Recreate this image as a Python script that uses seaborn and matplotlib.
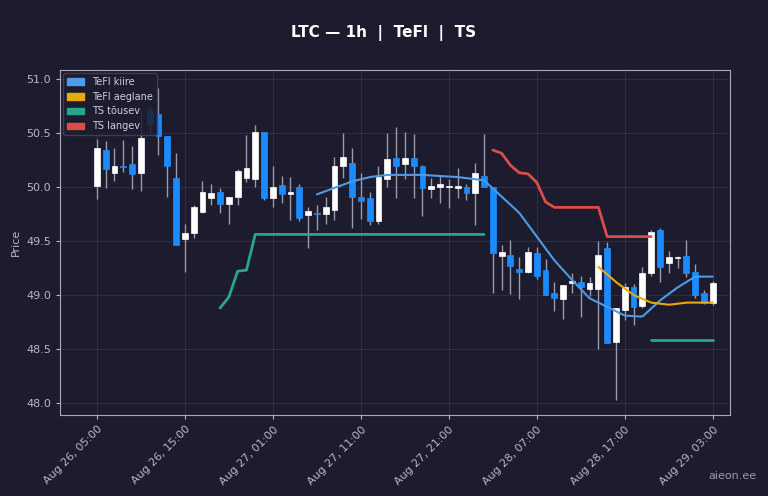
import matplotlib
matplotlib.use("Agg")
import matplotlib.pyplot as plt
import matplotlib.patches as mpatches
import numpy as np
import pandas as pd
import seaborn as sns

# candles (hourly, Aug 26 05:00 -> Aug 29 03:00)
opens = [50.01, 50.34, 50.13, 50.19, 50.21, 50.13, 50.71, 50.67, 50.47, 50.08,
         49.52, 49.57, 49.77, 49.90, 49.95, 49.84, 49.91, 50.08, 50.07, 50.51,
         49.90, 50.02, 49.93, 50.00, 49.74, 49.76, 49.75, 49.79, 50.19, 50.22,
         49.91, 49.90, 49.68, 50.07, 50.27, 50.21, 50.27, 50.19, 49.98, 50.00,
         50.00, 49.99, 50.00, 49.94, 50.10, 50.00, 49.36, 49.37, 49.24, 49.21,
         49.39, 49.23, 49.02, 48.96, 49.11, 49.12, 49.06, 49.06, 49.43, 48.57,
         48.86, 49.07, 48.90, 49.20, 49.60, 49.30, 49.34, 49.36, 49.21, 49.02,
         48.93]
closes = [50.36, 50.16, 50.19, 50.18, 50.12, 50.45, 50.57, 50.47, 50.19, 49.46,
          49.57, 49.81, 49.95, 49.94, 49.84, 49.91, 50.15, 50.17, 50.51, 49.90,
          50.00, 49.93, 49.95, 49.71, 49.78, 49.75, 49.81, 50.19, 50.28, 49.91,
          49.87, 49.68, 50.09, 50.26, 50.19, 50.27, 50.19, 49.99, 50.01, 50.03,
          50.00, 50.01, 49.94, 50.13, 50.00, 49.39, 49.40, 49.27, 49.21, 49.40,
          49.18, 49.00, 48.97, 49.09, 49.13, 49.07, 49.11, 49.37, 48.56, 48.88,
          49.07, 48.89, 49.20, 49.58, 49.26, 49.35, 49.35, 49.20, 49.00, 48.93,
          49.11]
highs = [50.44, 50.42, 50.36, 50.43, 50.38, 50.71, 50.75, 50.91, 50.47, 50.31,
         49.66, 49.83, 50.05, 50.03, 49.99, 49.91, 50.16, 50.48, 50.57, 50.51,
         50.19, 50.10, 50.09, 50.03, 49.81, 49.83, 49.91, 50.28, 50.50, 50.36,
         50.13, 49.95, 50.19, 50.50, 50.55, 50.51, 50.49, 50.20, 50.08, 50.11,
         50.07, 50.17, 50.03, 50.22, 50.49, 50.00, 49.46, 49.51, 49.35, 49.44,
         49.44, 49.33, 49.12, 49.09, 49.20, 49.18, 49.17, 49.50, 49.49, 48.88,
         49.11, 49.10, 49.26, 49.60, 49.62, 49.41, 49.36, 49.51, 49.29, 49.05,
         49.13]
lows = [49.89, 49.99, 50.05, 50.14, 49.98, 49.96, 50.50, 50.29, 49.91, 49.46,
        49.21, 49.53, 49.76, 49.83, 49.76, 49.66, 49.83, 50.04, 50.00, 49.88,
        49.81, 49.85, 49.69, 49.68, 49.43, 49.60, 49.66, 49.69, 50.08, 49.62,
        49.70, 49.65, 49.66, 50.00, 49.90, 50.07, 49.90, 49.73, 49.90, 49.85,
        49.80, 49.90, 49.88, 49.65, 50.00, 49.02, 49.05, 49.01, 48.96, 49.20,
        49.15, 49.00, 48.85, 48.78, 49.02, 48.80, 48.99, 48.50, 48.56, 48.03,
        48.77, 48.72, 48.88, 49.18, 49.12, 49.20, 49.25, 49.17, 48.97, 48.92,
        48.91]

# indicators: (index, value)
fast_idx = [25, 27, 29, 31, 33, 35, 37, 39, 41, 43, 44, 46, 48, 50, 52, 54, 56, 58, 60, 62, 64, 66, 68, 70]
fast_val = [49.93, 49.99, 50.05, 50.09, 50.11, 50.11, 50.11, 50.10, 50.09, 50.07, 50.06, 49.91, 49.76,
            49.54, 49.32, 49.14, 48.97, 48.89, 48.81, 48.80, 48.95, 49.07, 49.17, 49.17]
slow_idx = [57, 59, 61, 63, 65, 67, 70]
slow_val = [49.26, 49.12, 49.00, 48.93, 48.91, 48.93, 48.93]
down_idx = [45, 46, 47, 48, 49, 50, 51, 52, 57, 58, 63]
down_val = [50.34, 50.31, 50.20, 50.13, 50.12, 50.04, 49.86, 49.81, 49.81, 49.54, 49.54]
up1_idx = [14, 15, 16, 17, 18, 44]
up1_val = [48.88, 48.98, 49.22, 49.23, 49.56, 49.56]
up2_idx = [63, 70]
up2_val = [48.58, 48.58]

start = pd.Timestamp("2025-08-26 05:00")
tick_idx = list(range(0, 71, 10))
tick_labels = [(start + pd.Timedelta(hours=i)).strftime("%b %d, %H:%M") for i in tick_idx]

bg = "#1c1c2e"
sns.set_style("dark")
plt.rcParams["font.family"] = ["DejaVu Sans"]

fig = plt.figure(figsize=(7.68, 4.96), dpi=100, facecolor=bg)
ax = fig.add_axes([0.078, 0.163, 0.873, 0.696])
ax.set_facecolor(bg)

up_col, dn_col = "#ffffff", "#1a8cff"
for i, (o, c, h, l) in enumerate(zip(opens, closes, highs, lows)):
    col = up_col if c >= o else dn_col
    ax.vlines(i, l, h, color="#9a9aa8", lw=1, zorder=2)
    ax.add_patch(mpatches.Rectangle((i - 0.33, min(o, c)), 0.66, max(abs(c - o), 0.01),
                                    facecolor=col, edgecolor=col, lw=0.5, zorder=3))

lines = [
    (fast_idx, fast_val, "#4d9be6", "TeFl kiire"),
    (slow_idx, slow_val, "#e8a90c", "TeFl aeglane"),
    (up1_idx, up1_val, "#2aa58a", "TS tõusev"),
    (down_idx, down_val, "#dd4b4b", "TS langev"),
]
for xs, ys, col, lab in lines:
    if "kiire" in lab or "aeglane" in lab:
        xs_s = np.linspace(xs[0], xs[-1], 200)
        ys_s = np.interp(xs_s, xs, ys)
        sns.lineplot(x=xs_s, y=ys_s, ax=ax, color=col, lw=1.5, zorder=4)
    else:
        sns.lineplot(x=xs, y=ys, ax=ax, color=col, lw=2, zorder=4)
sns.lineplot(x=up2_idx, y=up2_val, ax=ax, color="#2aa58a", lw=2, zorder=4)

handles = [mpatches.Patch(color=c, label=l) for _, _, c, l in lines]
leg = ax.legend(handles=handles, loc="upper left", fontsize=7, frameon=True,
                facecolor=bg, edgecolor="#444455", labelcolor="#cfcfd8",
                handlelength=1.8, borderaxespad=0.3)
leg.get_frame().set_alpha(0.85)
leg.set_zorder(10)

ax.set_xlim(-4.2, 72.0)
ax.set_ylim(47.89, 51.08)
ax.set_yticks([48.0, 48.5, 49.0, 49.5, 50.0, 50.5, 51.0])
ax.set_xticks(tick_idx)
ax.set_xticklabels(tick_labels, rotation=45, ha="right", rotation_mode="anchor")
ax.tick_params(colors="#b8b8c4", labelsize=8, length=3, bottom=True, left=True)
ax.grid(True, color="#2e2e44", lw=0.7)
for s in ax.spines.values():
    s.set_color("#aaaab5")
    s.set_linewidth(0.8)
ax.set_ylabel("Price", color="#b8b8c4", fontsize=8)
ax.set_xlabel("")
fig.suptitle("LTC — 1h  |  TeFl  |  TS", color="white", fontsize=11, fontweight="bold", y=0.95)
fig.text(0.985, 0.035, "aieon.ee", color="#9a9aa8", fontsize=8, ha="right")

fig.savefig("out.png", dpi=100, facecolor=bg)
